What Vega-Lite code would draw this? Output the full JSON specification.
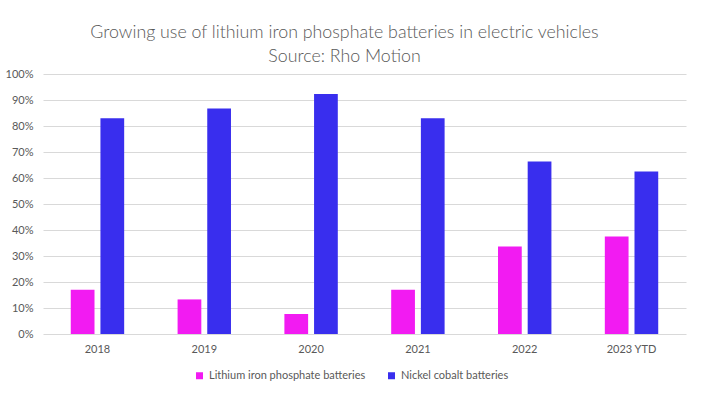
{
  "$schema": "https://vega.github.io/schema/vega-lite/v6.json",
  "width": 643,
  "height": 260,
  "autosize": {"type": "none"},
  "padding": {"left": 43, "top": 74, "right": 18, "bottom": 64},
  "background": "white",
  "title": {
    "text": ["Growing use of lithium iron phosphate batteries in electric vehicles", "Source: Rho Motion"],
    "font": "Lato",
    "fontSize": 17.8,
    "fontWeight": 300,
    "color": "#595959",
    "anchor": "middle",
    "lineHeight": 24,
    "offset": 2,
    "dx": -20
  },
  "data": {
    "values": [
      {"year": "2018", "type": "Lithium iron phosphate batteries", "share": 0.17},
      {"year": "2018", "type": "Nickel cobalt batteries", "share": 0.83},
      {"year": "2019", "type": "Lithium iron phosphate batteries", "share": 0.133},
      {"year": "2019", "type": "Nickel cobalt batteries", "share": 0.867},
      {"year": "2020", "type": "Lithium iron phosphate batteries", "share": 0.077},
      {"year": "2020", "type": "Nickel cobalt batteries", "share": 0.923},
      {"year": "2021", "type": "Lithium iron phosphate batteries", "share": 0.17},
      {"year": "2021", "type": "Nickel cobalt batteries", "share": 0.83},
      {"year": "2022", "type": "Lithium iron phosphate batteries", "share": 0.337},
      {"year": "2022", "type": "Nickel cobalt batteries", "share": 0.663},
      {"year": "2023 YTD", "type": "Lithium iron phosphate batteries", "share": 0.375},
      {"year": "2023 YTD", "type": "Nickel cobalt batteries", "share": 0.625}
    ]
  },
  "mark": {"type": "bar"},
  "encoding": {
    "x": {
      "field": "year",
      "type": "nominal",
      "sort": null,
      "scale": {"paddingInner": 0.5, "paddingOuter": 0.26},
      "axis": {
        "title": null,
        "labelAngle": 0,
        "domain": false,
        "ticks": false,
        "labelPadding": 9,
        "labelFont": "Lato",
        "labelFontSize": 11,
        "labelColor": "#595959"
      }
    },
    "xOffset": {
      "field": "type",
      "type": "nominal",
      "sort": ["Lithium iron phosphate batteries", "Nickel cobalt batteries"],
      "scale": {"paddingInner": 0.2}
    },
    "y": {
      "field": "share",
      "type": "quantitative",
      "scale": {"domain": [0, 1], "nice": false},
      "axis": {
        "title": null,
        "format": ".0%",
        "values": [0, 0.1, 0.2, 0.3, 0.4, 0.5, 0.6, 0.7, 0.8, 0.9, 1],
        "domain": false,
        "ticks": false,
        "labelPadding": 10,
        "labelFont": "Lato",
        "labelFontSize": 11,
        "labelColor": "#595959",
        "gridColor": "#D9D9D9",
        "gridWidth": 1
      }
    },
    "color": {
      "field": "type",
      "type": "nominal",
      "scale": {
        "domain": ["Lithium iron phosphate batteries", "Nickel cobalt batteries"],
        "range": ["#F21BF2", "#392EEE"]
      },
      "legend": {
        "orient": "none",
        "legendX": 151,
        "legendY": 296,
        "direction": "horizontal",
        "title": null,
        "symbolType": "square",
        "symbolSize": 49,
        "symbolStrokeWidth": 0,
        "labelFont": "Lato",
        "labelFontSize": 11,
        "labelColor": "#595959",
        "columnPadding": 20
      }
    }
  },
  "config": {
    "view": {"stroke": null}
  }
}
